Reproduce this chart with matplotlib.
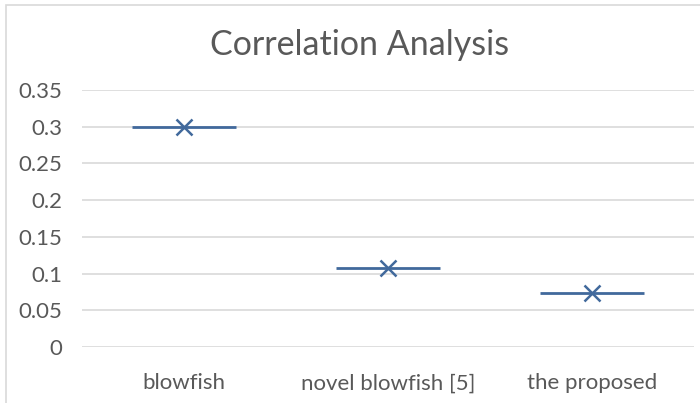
import matplotlib
matplotlib.use('Agg')
import matplotlib.pyplot as plt
from matplotlib.patches import Rectangle

# correlation coefficient per method
methods = ['blowfish', 'novel blowfish [5]', 'the proposed']
correlation = [0.300, 0.108, 0.074]
yticks = [0, 0.05, 0.1, 0.15, 0.2, 0.25, 0.3, 0.35]
ytick_labels = ['0', '0.05', '0.1', '0.15', '0.2', '0.25', '0.3', '0.35']

plt.rcParams['font.family'] = ['Lato', 'DejaVu Sans']
blue = '#41699c'
grey_text = '#595959'

fig = plt.figure(figsize=(7, 4.03), dpi=100)
ax = fig.add_axes([82 / 700, 1 - 347 / 403, (694 - 82) / 700, (347 - 90) / 403])

# light frame around the chart area
fig.patches.append(Rectangle((6 / 700, -0.1), 1.2, 1 - 5 / 403 + 0.1, transform=fig.transFigure,
                             fill=False, edgecolor='#d9d9d9', linewidth=1.2))

x = list(range(len(methods)))
ax.hlines(correlation, [i - 0.255 for i in x], [i + 0.255 for i in x], color=blue, linewidth=2, zorder=3)
ax.plot(x, correlation, linestyle='none', marker='x', markersize=12, markeredgewidth=1.8,
        color=blue, zorder=4)

ax.set_xlim(-0.5, 2.5)
ax.set_ylim(0, 0.35)
ax.set_yticks(yticks)
ax.set_yticklabels(ytick_labels)
ax.set_xticks(x)
ax.set_xticklabels(methods)
ax.grid(axis='y', color='#d9d9d9', linewidth=1.2)
ax.set_axisbelow(True)
for s in ax.spines.values():
    s.set_visible(False)
ax.tick_params(length=0, labelsize=16, labelcolor=grey_text)
ax.tick_params(axis='x', pad=19)
ax.tick_params(axis='y', pad=14)

fig.text(360 / 700, 1 - 45 / 403, 'Correlation Analysis', ha='center', va='center',
         fontsize=24.5, color=grey_text)

plt.savefig('out.png', dpi=100)
plt.close(fig)
